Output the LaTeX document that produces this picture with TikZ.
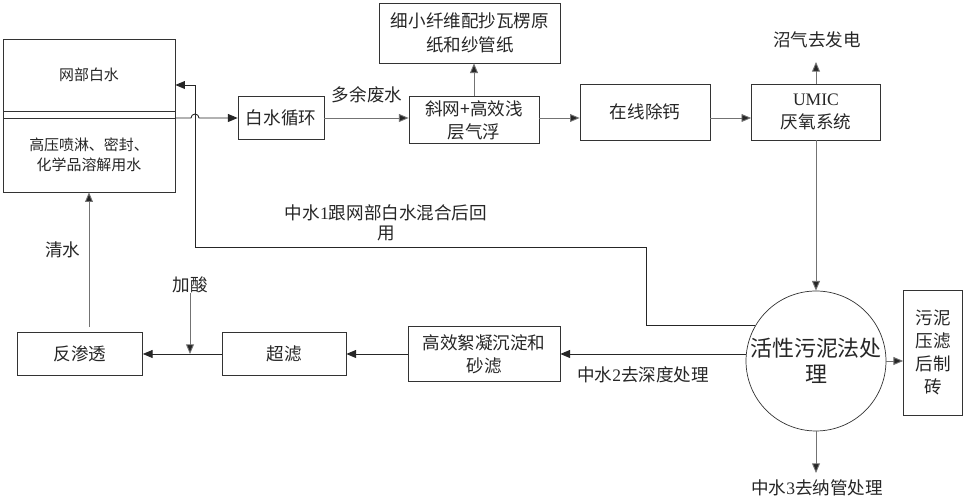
\documentclass[tikz,border=0pt]{standalone}
\usepackage{fontspec}
\setmainfont{Noto Sans CJK SC}
\newfontfamily\latfont{Liberation Serif}
\usetikzlibrary{arrows.meta}

\tikzset{
	box/.style={draw=black!80,fill=white,align=center,inner sep=0pt,text=black!85},
	lbl/.style={align=center,inner sep=0pt,text=black!85},
	flow/.style={draw=black!85,line width=0.5pt,-{Triangle[length=5.5pt,width=4.5pt]}},
	flowl/.style={draw=black!55,line width=0.5pt,-{Triangle[length=5.5pt,width=4.5pt,fill=black!85]}},
	small/.style={font=\fontsize{8.5}{11.5}\selectfont},
}

\begin{document}
\begin{tikzpicture}[x=0.02cm,y=0.02cm,font=\fontsize{10}{13}\selectfont]
		\useasboundingbox (0,0) rectangle (965,500);
		
		% water tank on the left
		\node[box,minimum width=3.44cm,minimum height=3.06cm] (bb) at (89,384.5) {};
		\path[draw=black!80] (3,382) rectangle (175,389);
		\node[lbl,small] (wb) at (89,425) {网部白水};
		\node[lbl,small] (gy) at (89,345) {高压喷淋、密封、\\化学品溶解用水};
		
		% upper row
		\node[box,minimum width=1.72cm,minimum height=0.86cm] (bsx) at (281,382) {白水循环};
		\node[box,minimum width=2.6cm,minimum height=0.94cm] (xw) at (474,380) {斜网+高效浅\\层气浮};
		\node[box,minimum width=3.62cm,minimum height=1.2cm,font=\fontsize{10}{14}\selectfont] (xx) at (470,467) {细小纤维配抄瓦楞原\\纸和纱管纸};
		\node[box,minimum width=2.6cm,minimum height=1.12cm] (zx) at (645,388) {在线除钙};
		\node[box,minimum width=2.58cm,minimum height=1.12cm] (umic) at (816,388) {{\latfont UMIC}\\厌氧系统};
		
		% activated sludge and lower row
		\node[box,circle,minimum size=2.8cm,font=\fontsize{12.5}{15}\selectfont] (hl) at (816,139) {活性污泥法处\\理};
		\node[box,minimum width=1.18cm,minimum height=2.5cm] (wn) at (933,147.5) {污泥\\压滤\\后制\\砖};
		\node[box,minimum width=3.04cm,minimum height=1.1cm] (hx) at (484,146) {高效絮凝沉淀和\\砂滤};
		\node[box,minimum width=2.48cm,minimum height=0.86cm] (cl) at (284,146) {超滤};
		\node[box,minimum width=2.5cm,minimum height=0.86cm] (fs) at (80,146) {反渗透};
		
		% labels
		\node[lbl] (dy) at (367,405) {多余废水};
		\node[lbl] (zq) at (817,460) {沼气去发电};
		\node[lbl,font=\fontsize{10}{11.5}\selectfont] (zs1) at (386,277) {中水{\latfont 1}跟网部白水混合后回\\用};
		\node[lbl] (zs2) at (643,125) {中水{\latfont 2}去深度处理};
		\node[lbl] (zs3) at (817,12) {中水{\latfont 3}去纳管处理};
		\node[lbl] (js) at (190,215) {加酸};
		\node[lbl] (qs) at (63,250) {清水};
		\coordinate (zqd) at (816,438);
		\coordinate (zsd) at (816,27);
		\coordinate (jsd) at (190,146);
		
		% connectors
		\draw[flow] (bb.east |- bsx.west) -- (191,382) arc[start angle=180,end angle=0,radius=0.08cm] -- (bsx.west);
		\draw[flowl] (bsx.east) -- (xw.west |- bsx.east);
		\draw[flowl] (xw.north) -- (xw.north |- xx.south);
		\draw[flowl] (xw.east |- bsx.east) -- (zx.west |- bsx.east);
		\draw[flowl] (zx.east |- bsx.east) -- (umic.west |- bsx.east);
		\draw[flowl] (umic.north) -- (zqd);
		\draw[flowl] (umic.south) -- (hl.north);
		\draw[flow] (hl.150) -| (646,253) -| (195,415) -- (bb.east |- 0,415);
		\draw[flow] (hl.west |- hx.east) -- (hx.east);
		\draw[flowl] (hl.east) -- (wn.west |- hl.east);
		\draw[flowl] (hl.south) -- (zsd);
		\draw[flow] (hx.west) -- (cl.east);
		\draw[flow] (cl.west) -- (fs.east);
		\draw[flowl] (js.south) -- (jsd);
		\draw[flowl,shorten <=0.1cm] (bb.south |- fs.north) -- (bb.south);
	\end{tikzpicture}
\end{document}
